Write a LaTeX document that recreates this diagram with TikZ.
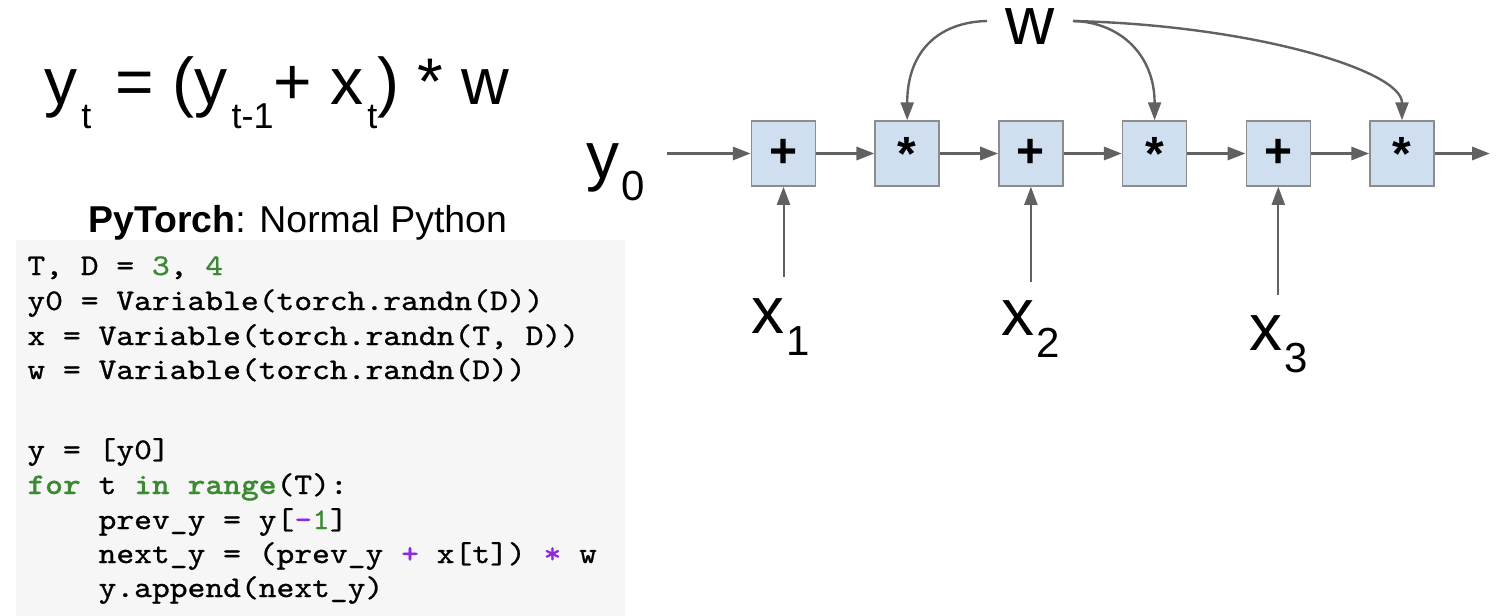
\documentclass[tikz,border=0pt]{standalone}
\usepackage{fontspec}
\setmainfont{Liberation Sans}
\newfontfamily\codefont[FakeStretch=1.13,FakeBold=0.9]{lmmono10-regular.otf}
\newfontfamily\codefontbf[FakeStretch=1.13,FakeBold=0.6]{lmmonolt10-bold.otf}
\usetikzlibrary{arrows.meta}
\definecolor{arrgray}{HTML}{616161}
\definecolor{boxblue}{HTML}{CFDFF0}
\definecolor{boxline}{HTML}{8C8C8C}
\definecolor{codebg}{HTML}{F6F6F6}
\definecolor{pygreen}{HTML}{3B8A33}
\definecolor{pypurple}{HTML}{8A2BE2}
\newcommand\eqsub[1]{\kern2pt\raisebox{-12pt}{\fontsize{18}{18}\selectfont #1}}
\newcommand\dgsub[1]{\kern1pt\raisebox{-11pt}{\fontsize{21}{21}\selectfont #1}}
\newcommand\kw[1]{{\codefontbf\color{pygreen}#1}}
\newcommand\gn[1]{{\color{pygreen}#1}}
\newcommand\pp[1]{{\color{pypurple}#1}}
\newcommand\ind{\phantom{xxxx}}
\tikzset{
  opbox/.style={draw=boxline, line width=0.75pt, fill=boxblue, minimum width=32pt,
    minimum height=32.5pt, inner sep=0pt, font=\fontsize{24}{24}\selectfont\bfseries},
  arr/.style={draw=arrgray, line width=1.6pt, -{Triangle[length=9pt,width=6.5pt]}},
  varr/.style={arr, line width=1pt},
  carr/.style={arr, line width=1.2pt},
  lbl/.style={inner sep=0pt, anchor=base, font=\fontsize{33}{33}\selectfont},
  codeline/.style={inner sep=0pt, anchor=base west, font=\codefont\fontsize{15}{15}\selectfont}
}
\begin{document}
\begin{tikzpicture}[x=0.5pt,y=-0.5pt]
\useasboundingbox (0,0) rectangle (1500,616);
% equation and title
\node[inner sep=0pt, anchor=base west, font=\fontsize{33}{38}\selectfont] (eq) at (44,104)
  {y\eqsub{t}\kern3pt\ = (y\eqsub{t-1}+ x\eqsub{t}) * w};
\node[inner sep=0pt, anchor=base west, font=\fontsize{18.7}{22}\selectfont] (title) at (88,232)
  {\textbf{PyTorch}: Normal Python};
% code
\fill[codebg] (16,240) rectangle (625,616);
\node[codeline] (c1) at (27,275) {T, D = \gn{3}, \gn{4}};
\node[codeline] (c2) at (27,310) {y0 = Variable(torch.randn(D))};
\node[codeline] (c3) at (27,345) {x = Variable(torch.randn(T, D))};
\node[codeline] (c4) at (27,379) {w = Variable(torch.randn(D))};
\node[codeline] (c5) at (27,459) {y = [y0]};
\node[codeline] (c6) at (27,494) {\kw{for} t \kw{in} \kw{range}(T):};
\node[codeline] (c7) at (27,529) {\ind prev\_y = y[\pp{-}\gn{1}]};
\node[codeline] (c8) at (27,563) {\ind next\_y = (prev\_y \pp{+} x[t]) \pp{*} w};
\node[codeline] (c9) at (27,597) {\ind y.append(next\_y)};
% boxes
\node[opbox] (b1) at (783.5,153.5) {\vphantom{+}+};
\node[opbox] (b2) at (907.2,153.5) {\vphantom{+}*};
\node[opbox] (b3) at (1030.9,153.5) {\vphantom{+}+};
\node[opbox] (b4) at (1154.6,153.5) {\vphantom{+}*};
\node[opbox] (b5) at (1278.3,153.5) {\vphantom{+}+};
\node[opbox] (b6) at (1402,153.5) {\vphantom{+}*};
% labels
\node[inner sep=0pt, anchor=base west, font=\fontsize{33}{33}\selectfont] (y0) at (586,178) {y\dgsub{0}};
\node[lbl] (x1) at (781,333) {x\dgsub{1}};
\node[lbl] (x2) at (1031,335) {x\dgsub{2}};
\node[lbl] (x3) at (1279,350) {x\dgsub{3}};
\node[lbl, font=\fontsize{34}{34}\selectfont] (w) at (1030,44) {w};
% connectors
\coordinate (y0s) at (667,153.5);
\coordinate (yend) at (1490,153.5);
\draw[arr] (y0s) -- (b1);
\draw[arr] (b1) -- (b2);
\draw[arr] (b2) -- (b3);
\draw[arr] (b3) -- (b4);
\draw[arr] (b4) -- (b5);
\draw[arr] (b5) -- (b6);
\draw[arr] (b6) -- (yend);
\coordinate (x1s) at (783.5,277);
\coordinate (x2s) at (1030.9,282);
\coordinate (x3s) at (1278.3,295);
\draw[varr] (x1s) -- (b1);
\draw[varr] (x2s) -- (b3);
\draw[varr] (x3s) -- (b5);
\coordinate (wl) at (987,21);
\coordinate (wr) at (1073,21);
\draw[carr] (wl) .. controls (940,22) and (907.2,50) .. (b2.north);
\draw[carr] (wr) .. controls (1120,22) and (1154.6,55) .. (b4.north);
\draw[carr] (wr) .. controls (1250,25) and (1402,70) .. (b6.north);
\end{tikzpicture}
\end{document}
